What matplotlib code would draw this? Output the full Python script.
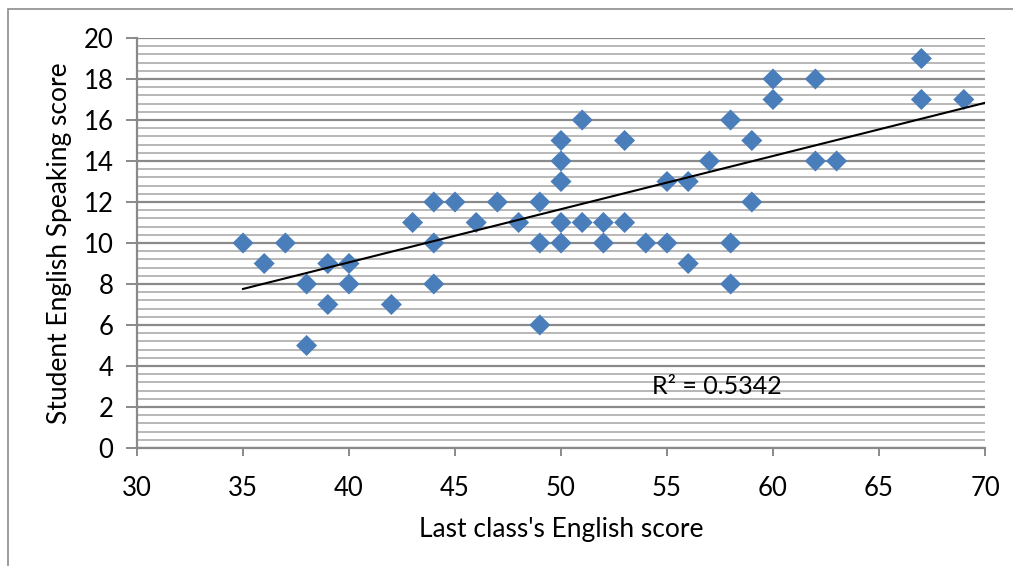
import numpy as np
import matplotlib
matplotlib.use("Agg")
import matplotlib.pyplot as plt
from matplotlib.patches import Rectangle
from matplotlib.ticker import MultipleLocator

# last class score vs speaking score
last_class = [35, 36, 37, 38, 38, 39, 39, 40, 40, 42, 43, 44, 44, 44, 45, 46, 47, 48,
              49, 49, 49, 50, 50, 50, 50, 50, 51, 51, 52, 52, 53, 53, 54, 55, 55, 56,
              56, 57, 58, 58, 58, 59, 59, 60, 60, 62, 62, 63, 67, 67, 69]
speaking = [10, 9, 10, 8, 5, 9, 7, 9, 8, 7, 11, 12, 10, 8, 12, 11, 12, 11,
            12, 10, 6, 15, 14, 13, 11, 10, 16, 11, 11, 10, 15, 11, 10, 13, 10, 13,
            9, 14, 16, 10, 8, 15, 12, 18, 17, 18, 14, 14, 19, 17, 17]
# trendline (slope, intercept)
trend_coef = [0.2594, -1.32]
r2_label = "R² = 0.5342"

plt.rcParams['font.family'] = ['Lato', 'DejaVu Sans']

fig = plt.figure(figsize=(10.13, 5.66), dpi=100)
ax = fig.add_axes([137 / 1013, 1 - 448 / 566, 848 / 1013, 410 / 566])

# outer chart border
fig.patches.append(Rectangle((8 / 1013, -0.1), 1.2, 1 - 9 / 566 + 0.1,
                             transform=fig.transFigure, fill=False,
                             edgecolor='#8c8c8c', linewidth=1.2, zorder=0))

ax.set_xlim(30, 70)
ax.set_ylim(0, 20)
ax.xaxis.set_major_locator(MultipleLocator(5))
ax.yaxis.set_major_locator(MultipleLocator(2))
ax.yaxis.set_minor_locator(MultipleLocator(0.4))

ax.grid(axis='y', which='minor', color='#b8b8b8', linewidth=1.4, zorder=0)
ax.grid(axis='y', which='major', color='#8a8a8a', linewidth=1.6, zorder=0)
ax.set_axisbelow(True)

for s in ['top', 'right']:
    ax.spines[s].set_visible(False)
for s in ['left', 'bottom']:
    ax.spines[s].set_color('#8a8a8a')
    ax.spines[s].set_linewidth(1.6)

ax.tick_params(axis='both', which='major', direction='out', width=1.4,
               color='#8a8a8a', labelsize=18.5)
ax.tick_params(axis='x', which='major', length=6, pad=14)
ax.tick_params(axis='y', which='major', length=8, pad=9)
ax.tick_params(axis='y', which='minor', length=0)

ax.scatter(last_class, speaking, marker='D', s=115, color='#4a7ebb',
           edgecolors='none', zorder=3)

# linear trendline
xs = np.array([min(last_class), 70])
ax.plot(xs, trend_coef[0] * xs + trend_coef[1], color='black', linewidth=1.5, zorder=4)

ax.text(54.3, 3.0, r2_label, fontsize=18, va='center', ha='left')

ax.set_xlabel("Last class's English score", fontsize=19, labelpad=12)
ax.set_ylabel("Student English Speaking score", fontsize=19, labelpad=8)

fig.savefig("out.png", dpi=100)
